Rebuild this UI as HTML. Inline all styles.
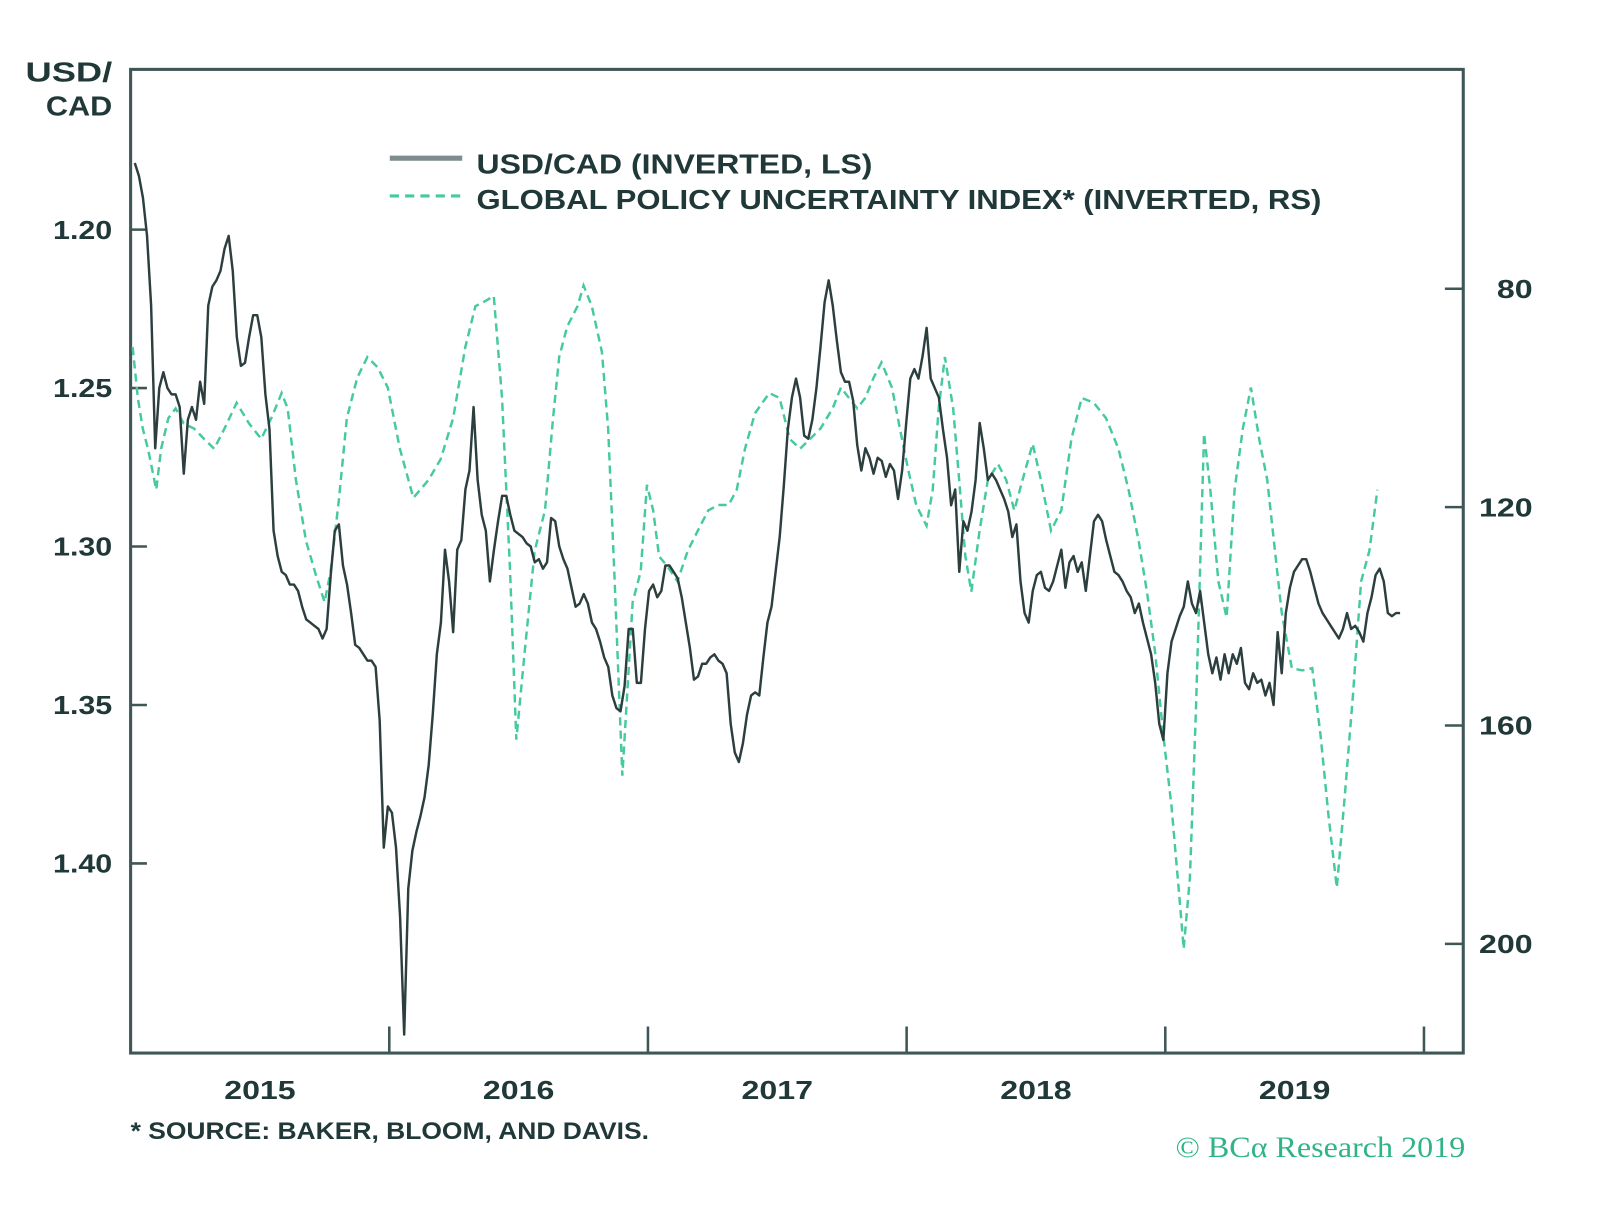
<!DOCTYPE html>
<html><head><meta charset="utf-8"><style>
html,body{margin:0;padding:0;background:#fff;}
svg{display:block;}
text{font-family:"Liberation Sans",sans-serif;font-weight:bold;fill:#203838;}
</style></head><body>
<svg id="chart" width="1600" height="1208" viewBox="0 0 1600 1208" xmlns="http://www.w3.org/2000/svg">
<g transform="scale(1.0204)">
<g id="axes"></g>
<g id="series"></g>
<text x="25" y="80" font-size="27" textLength="85" lengthAdjust="spacingAndGlyphs">USD/</text>
<text x="45" y="113" font-size="27" textLength="65" lengthAdjust="spacingAndGlyphs">CAD</text>
<g>
<line x1="382" y1="155" x2="453" y2="155" stroke="#7d8c8c" stroke-width="5"/>
<text x="467" y="170" font-size="27" textLength="388" lengthAdjust="spacingAndGlyphs">USD/CAD (INVERTED, LS)</text>
<line x1="382" y1="192" x2="455" y2="192" stroke="#45c99e" stroke-width="3" stroke-dasharray="9,6"/>
<text x="467" y="205" font-size="27" textLength="828" lengthAdjust="spacingAndGlyphs">GLOBAL POLICY UNCERTAINTY INDEX* (INVERTED, RS)</text>
</g>
<text x="128" y="1116" font-size="24" textLength="508" lengthAdjust="spacingAndGlyphs">* SOURCE: BAKER, BLOOM, AND DAVIS.</text>
<text x="1152" y="1134" font-size="29" textLength="284" lengthAdjust="spacingAndGlyphs" style="font-family:'Liberation Serif',serif;font-weight:normal;fill:#2fb488">© BCα Research 2019</text>
</g>
</svg>
<script>
const leftTicks=[1.20,1.25,1.30,1.35,1.40];
const leftTickLabels=["1.20","1.25","1.30","1.35","1.40"];
const rightTicks=[80,120,160,200];
const rightTickLabels=["80","120","160","200"];
const yearTicks=[2016,2017,2018,2019,2020];
const yearLabels=["2015","2016","2017","2018","2019"];
const usdStart=2015.016;
const usdStepYears=0.01578;
const usdValues=[1.179,1.183,1.190,1.202,1.224,1.269,1.250,1.245,1.250,1.252,1.252,1.256,1.277,1.260,1.256,1.260,1.248,1.255,1.224,1.218,1.216,1.213,1.206,1.202,1.213,1.234,1.243,1.242,1.234,1.227,1.227,1.234,1.252,1.263,1.295,1.303,1.308,1.309,1.312,1.312,1.314,1.319,1.323,1.324,1.325,1.326,1.329,1.326,1.309,1.295,1.293,1.306,1.312,1.321,1.331,1.332,1.334,1.336,1.336,1.338,1.355,1.395,1.382,1.384,1.395,1.417,1.454,1.408,1.396,1.390,1.385,1.379,1.369,1.353,1.334,1.324,1.301,1.311,1.327,1.301,1.298,1.282,1.276,1.256,1.279,1.290,1.295,1.311,1.301,1.292,1.284,1.284,1.290,1.295,1.296,1.297,1.299,1.300,1.305,1.304,1.307,1.305,1.291,1.292,1.300,1.304,1.307,1.313,1.319,1.318,1.315,1.318,1.324,1.326,1.330,1.335,1.338,1.347,1.351,1.352,1.344,1.326,1.326,1.343,1.343,1.326,1.314,1.312,1.316,1.314,1.306,1.306,1.308,1.310,1.316,1.324,1.332,1.342,1.341,1.337,1.337,1.335,1.334,1.336,1.337,1.340,1.356,1.365,1.368,1.362,1.353,1.347,1.346,1.347,1.335,1.324,1.319,1.308,1.297,1.281,1.263,1.253,1.247,1.253,1.265,1.266,1.260,1.250,1.237,1.223,1.216,1.224,1.235,1.245,1.248,1.248,1.254,1.268,1.276,1.269,1.272,1.277,1.272,1.273,1.278,1.274,1.276,1.285,1.276,1.261,1.247,1.244,1.247,1.240,1.231,1.247,1.250,1.253,1.263,1.272,1.287,1.282,1.308,1.292,1.295,1.289,1.279,1.261,1.269,1.279,1.277,1.279,1.282,1.285,1.289,1.297,1.293,1.311,1.321,1.324,1.314,1.309,1.308,1.313,1.314,1.311,1.306,1.301,1.313,1.305,1.303,1.308,1.305,1.314,1.303,1.292,1.290,1.292,1.298,1.303,1.308,1.309,1.311,1.314,1.316,1.321,1.318,1.324,1.329,1.334,1.343,1.356,1.361,1.340,1.330,1.326,1.322,1.319,1.311,1.318,1.321,1.314,1.324,1.334,1.340,1.335,1.342,1.334,1.340,1.334,1.337,1.332,1.343,1.345,1.340,1.343,1.342,1.347,1.343,1.350,1.327,1.340,1.321,1.313,1.308,1.306,1.304,1.304,1.308,1.313,1.318,1.321,1.323,1.325,1.327,1.329,1.326,1.321,1.326,1.325,1.327,1.330,1.321,1.316,1.309,1.307,1.311,1.321,1.322,1.321,1.321];
const gpuDates=[2015.008,2015.028,2015.047,2015.067,2015.087,2015.099,2015.118,2015.146,2015.174,2015.205,2015.245,2015.284,2015.323,2015.363,2015.410,2015.458,2015.505,2015.544,2015.584,2015.607,2015.639,2015.678,2015.718,2015.750,2015.773,2015.805,2015.836,2015.876,2015.915,2015.955,2015.994,2016.041,2016.093,2016.152,2016.199,2016.247,2016.294,2016.333,2016.373,2016.404,2016.436,2016.467,2016.491,2016.523,2016.562,2016.602,2016.633,2016.657,2016.688,2016.728,2016.751,2016.783,2016.822,2016.846,2016.870,2016.901,2016.941,2016.972,2016.996,2017.020,2017.043,2017.075,2017.114,2017.154,2017.193,2017.233,2017.272,2017.312,2017.343,2017.375,2017.414,2017.469,2017.509,2017.548,2017.588,2017.627,2017.667,2017.714,2017.746,2017.777,2017.809,2017.840,2017.872,2017.903,2017.943,2017.974,2018.006,2018.037,2018.077,2018.101,2018.124,2018.148,2018.180,2018.203,2018.227,2018.250,2018.282,2018.314,2018.353,2018.385,2018.416,2018.448,2018.487,2018.519,2018.558,2018.598,2018.637,2018.677,2018.724,2018.771,2018.819,2018.858,2018.897,2018.929,2018.961,2018.992,2019.024,2019.055,2019.071,2019.095,2019.118,2019.150,2019.174,2019.205,2019.237,2019.268,2019.300,2019.331,2019.363,2019.394,2019.426,2019.450,2019.489,2019.529,2019.568,2019.600,2019.631,2019.663,2019.694,2019.726,2019.757,2019.789,2019.820];
const gpuValues=[90.7,100.0,105.6,109.3,114.0,116.8,109.3,103.7,101.9,104.7,105.6,107.5,109.3,105.6,100.9,104.7,107.5,103.7,99.1,101.9,115.0,126.2,132.7,137.4,131.8,118.7,103.7,96.3,92.5,94.4,98.1,109.3,118.3,115.0,111.2,103.7,90.7,83.2,82.2,81.3,100.0,131.8,162.6,146.7,128.0,120.6,103.7,92.5,86.9,83.2,79.4,83.2,91.6,105.6,131.8,169.2,137.4,131.8,115.9,120.6,129.0,130.8,133.6,128.0,124.3,120.6,119.6,119.6,116.8,109.3,102.8,99.1,100.0,107.5,109.3,107.5,105.6,101.9,98.1,100.0,101.9,100.0,96.3,93.5,98.1,105.6,113.1,119.6,123.4,116.8,101.9,92.5,101.9,115.0,128.9,135.5,124.3,115.0,112.1,115.0,120.6,115.0,108.4,115.0,124.3,120.6,107.5,100.0,100.9,103.7,109.3,116.8,126.2,135.5,146.7,161.7,174.8,191.6,200.9,187.9,157.9,106.5,116.8,133.6,140.2,116.8,105.6,98.1,107.5,115.0,128.9,139.3,149.5,149.9,149.5,161.7,176.6,189.7,172.9,154.2,133.6,128.0,116.8];

const L=128,R=1434,T=68,B=1032;
const xScale=d=>L+(d-2015)*253.5;
const yLeft=v=>225+(v-1.20)/0.05*155.3;
const yRight=v=>283+(v-80)/40*214;
const NS="http://www.w3.org/2000/svg";
function mk(tag,attrs,parent){const e=document.createElementNS(NS,tag);for(const k in attrs)e.setAttribute(k,attrs[k]);parent.appendChild(e);return e;}
const axes=document.getElementById('axes');
const series=document.getElementById('series');
const frame=mk('rect',{x:L,y:T,width:R-L,height:B-T,fill:'none',stroke:'#3f5656','stroke-width':3},axes);


leftTicks.forEach((v,i)=>{const y=yLeft(v);
 const t=mk('line',{x1:L,y1:y,x2:L+16,y2:y,stroke:'#3f5656','stroke-width':2.5},axes);
 
 
 const tx=mk('text',{x:52,y:y+9,'font-size':25,textLength:58,lengthAdjust:'spacingAndGlyphs'},axes);tx.textContent=leftTickLabels[i];
 
 });
rightTicks.forEach((v,i)=>{const y=yRight(v);
 const t=mk('line',{x1:R-18,y1:y,x2:R,y2:y,stroke:'#3f5656','stroke-width':2.5},axes);
 
 
 const w=rightTickLabels[i].length*17.5;
 const tx=mk('text',{x:1502-w,y:y+9,'font-size':25,textLength:w,lengthAdjust:'spacingAndGlyphs'},axes);tx.textContent=rightTickLabels[i];
 
 });
yearTicks.forEach(d=>{const x=xScale(d);
 const t=mk('line',{x1:x,y1:B-26,x2:x,y2:B,stroke:'#3f5656','stroke-width':2.5},axes);
 
 });
yearLabels.forEach((lab,i)=>{const x=xScale(+lab+0.5);
 const tx=mk('text',{x:x-35,y:1077,'font-size':25,textLength:70,lengthAdjust:'spacingAndGlyphs'},axes);tx.textContent=lab;
 
 });
const gp=gpuValues.map((v,i)=>xScale(gpuDates[i]).toFixed(1)+','+yRight(v).toFixed(1)).join(' ');
const g=mk('polyline',{points:gp,fill:'none',stroke:'#45c99e','stroke-width':2.4,'stroke-dasharray':'8,5'},series);


const up=usdValues.map((v,i)=>xScale(usdStart+i*usdStepYears).toFixed(1)+','+yLeft(v).toFixed(1)).join(' ');
const u=mk('polyline',{points:up,fill:'none',stroke:'#2c3e3e','stroke-width':2.4,'stroke-linejoin':'round'},series);


</script>
</body></html>
